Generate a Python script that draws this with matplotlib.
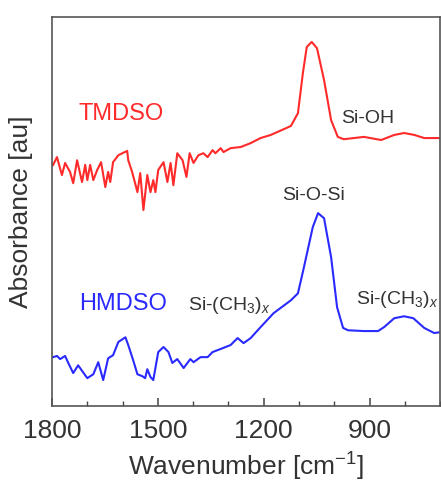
"""
FTIR absorbance spectra of TMDSO and HMDSO films
"""

import numpy as np
import matplotlib.pyplot as plt
from matplotlib.ticker import MultipleLocator

# Wavenumber [cm-1] and absorbance [au]
tmdso_wavenumber = [1797, 1786, 1772, 1763, 1749, 1740, 1729, 1715, 1706, 1700,
                    1692, 1683, 1672, 1661, 1649, 1641, 1635, 1627, 1612, 1587,
                    1584, 1573, 1558, 1550, 1541, 1530, 1521, 1513, 1507, 1499,
                    1484, 1473, 1464, 1456, 1445, 1430, 1419, 1410, 1399, 1385,
                    1371, 1359, 1345, 1337, 1322, 1314, 1294, 1265, 1237, 1209,
                    1180, 1123, 1103, 1089, 1078, 1064, 1049, 1029, 1009, 990,
                    973, 916, 867, 830, 802, 773, 745, 700]
tmdso_absorbance = [0.620, 0.640, 0.594, 0.625, 0.602, 0.573, 0.632, 0.576, 0.620, 0.581,
                    0.620, 0.581, 0.607, 0.627, 0.563, 0.602, 0.576, 0.627, 0.645, 0.656,
                    0.632, 0.602, 0.550, 0.599, 0.504, 0.594, 0.550, 0.581, 0.550, 0.607,
                    0.627, 0.576, 0.625, 0.568, 0.650, 0.632, 0.589, 0.650, 0.625, 0.645,
                    0.650, 0.640, 0.658, 0.650, 0.663, 0.653, 0.663, 0.666, 0.676, 0.689,
                    0.697, 0.720, 0.753, 0.856, 0.923, 0.936, 0.920, 0.838, 0.735, 0.692,
                    0.686, 0.692, 0.684, 0.697, 0.702, 0.697, 0.689, 0.689]

hmdso_wavenumber = [1797, 1786, 1777, 1763, 1755, 1740, 1726, 1712, 1700, 1683,
                    1669, 1655, 1641, 1627, 1612, 1592, 1584, 1570, 1558, 1544,
                    1536, 1530, 1521, 1513, 1499, 1484, 1470, 1459, 1445, 1427,
                    1408, 1399, 1379, 1359, 1345, 1322, 1294, 1274, 1257, 1237,
                    1209, 1172, 1123, 1103, 1086, 1061, 1046, 1029, 1009, 992,
                    975, 961, 916, 876, 859, 830, 802, 776, 745, 717, 700]
hmdso_absorbance = [0.126, 0.129, 0.121, 0.129, 0.113, 0.085, 0.105, 0.087, 0.072, 0.082,
                    0.113, 0.067, 0.123, 0.131, 0.165, 0.177, 0.157, 0.118, 0.082, 0.077,
                    0.072, 0.095, 0.075, 0.067, 0.139, 0.152, 0.139, 0.111, 0.121, 0.098,
                    0.121, 0.113, 0.126, 0.126, 0.139, 0.147, 0.157, 0.175, 0.162, 0.175,
                    0.203, 0.239, 0.272, 0.290, 0.357, 0.460, 0.496, 0.483, 0.383, 0.254,
                    0.201, 0.195, 0.193, 0.193, 0.203, 0.226, 0.231, 0.226, 0.201, 0.188, 0.190]

sample_names = ["TMDSO", "HMDSO"]
sample_colors = ["#ff2a2a", "#2a2aff"]
sample_label_pos = [(1604, 0.751), (1598, 0.262)]

band_labels = ["Si-OH", "Si-O-Si", r"Si-(CH$_3$)$_x$", r"Si-(CH$_3$)$_x$"]
band_label_pos = [(904, 0.738), (1058, 0.542), (1297, 0.258), (822, 0.273)]

plt.rcParams["font.family"] = ["Liberation Sans", "DejaVu Sans"]
plt.rcParams["mathtext.fontset"] = "custom"
plt.rcParams["mathtext.rm"] = "Liberation Sans"
plt.rcParams["mathtext.it"] = "Liberation Sans:italic"

fig = plt.figure(figsize=(4.41, 4.87), dpi=100)
ax = fig.add_axes([0.118, 0.166, 0.880, 0.799])

ax.plot(tmdso_wavenumber, tmdso_absorbance, color=sample_colors[0], lw=1.5)
ax.plot(hmdso_wavenumber, hmdso_absorbance, color=sample_colors[1], lw=1.5)

for name, color, (x, y) in zip(sample_names, sample_colors, sample_label_pos):
    ax.text(x, y, name, color=color, fontsize=17, ha="center", va="center")
for label, (x, y) in zip(band_labels, band_label_pos):
    ax.text(x, y, label, color="#333333", fontsize=14, ha="center", va="center")

ax.set_xlim(1800, 700)
ax.set_ylim(0, 1)
ax.xaxis.set_major_locator(MultipleLocator(300))
ax.xaxis.set_minor_locator(MultipleLocator(100))
ax.set_yticks([])
ax.tick_params(axis="x", which="both", direction="in", top=False,
               color="#444444", labelsize=19, labelcolor="#333333", pad=9)
ax.tick_params(axis="x", which="major", length=6, width=1.1)
ax.tick_params(axis="x", which="minor", length=3.5, width=1.0)
for spine in ax.spines.values():
    spine.set_color("#555555")
    spine.set_linewidth(1.2)

ax.set_xlabel("Wavenumber [cm$^{-1}$]", fontsize=19, color="#333333", labelpad=6)
ax.set_ylabel("Absorbance [au]", fontsize=19, color="#333333", labelpad=14)

fig.savefig("out.png", dpi=100)
